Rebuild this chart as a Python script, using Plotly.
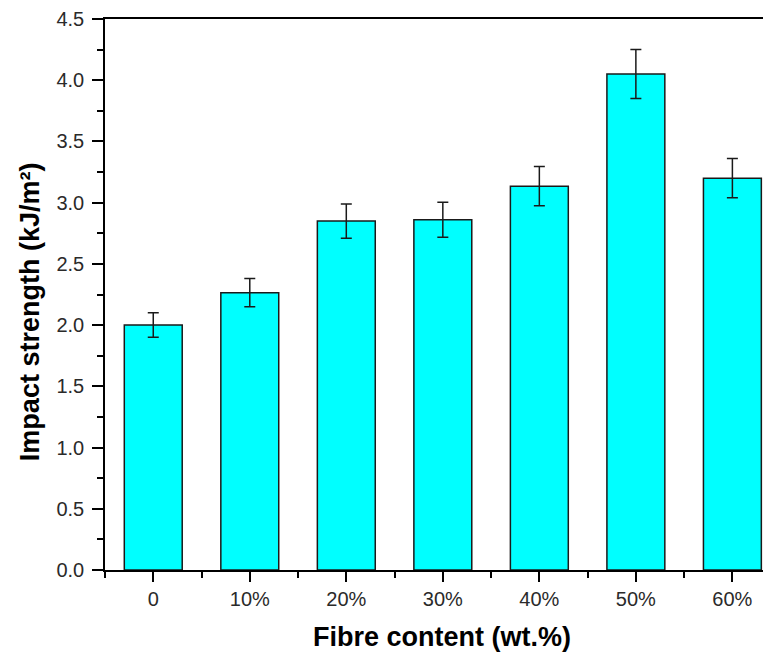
import plotly.graph_objects as go

categories = ["0", "10%", "20%", "30%", "40%", "50%", "60%"]
impact = [2.00, 2.265, 2.85, 2.86, 3.135, 4.05, 3.20]
err = [0.10, 0.115, 0.14, 0.143, 0.16, 0.20, 0.16]
y_ticks = [0, 0.5, 1.0, 1.5, 2.0, 2.5, 3.0, 3.5, 4.0, 4.5]

xpos = list(range(len(categories)))
FONT = "Liberation Sans, Arial, sans-serif"

fig = go.Figure()
fig.add_trace(go.Bar(
    x=xpos, y=impact, width=0.6,
    marker=dict(color="#00FFFF", line=dict(color="#1a1a1a", width=1.5)),
    error_y=dict(type="data", array=err, visible=True, color="#1a1a1a",
                 thickness=1.5, width=5.5),
))

# page body has an 8px margin; compensate so the plot sits where the reference has it
fig.update_layout(
    width=763, height=645,
    margin=dict(l=97, r=0, t=11, b=83),
    plot_bgcolor="white", paper_bgcolor="white",
    showlegend=False,
    font=dict(family=FONT, color="#222"),
)
fig.update_xaxes(
    range=[-0.5, 6.4],
    tickmode="array", tickvals=xpos, ticktext=categories,
    showline=True, linecolor="black", linewidth=1.5, mirror=True,
    ticks="outside", ticklen=10, tickwidth=1.5, tickcolor="black",
    minor=dict(tickmode="linear", tick0=-0.5, dtick=1, ticks="outside",
               ticklen=6, tickwidth=1.5, tickcolor="black"),
    showgrid=False, zeroline=False,
    tickfont=dict(size=20, family=FONT, color="#2a2a2a"),
)
fig.update_yaxes(
    range=[0, 4.5],
    tickmode="array", tickvals=y_ticks, tickformat=".1f",
    showline=True, linecolor="black", linewidth=1.5,
    ticks="outside", ticklen=11, tickwidth=1.5, tickcolor="black",
    ticklabelstandoff=4,
    minor=dict(tickmode="linear", tick0=0, dtick=0.25, ticks="outside",
               ticklen=6, tickwidth=1.5, tickcolor="black"),
    showgrid=False, zeroline=False,
    tickfont=dict(size=20, family=FONT, color="#2a2a2a"),
)
fig.add_annotation(
    text="<b>Fibre content (wt.%)</b>", xref="paper", yref="paper",
    x=0.506, y=-0.122, xanchor="center", yanchor="middle", showarrow=False,
    font=dict(size=27, family=FONT, color="black"),
)
fig.add_annotation(
    text="<b>Impact strength (kJ/m²)</b>", xref="paper", yref="paper",
    x=-0.1126, y=0.468, xanchor="center", yanchor="middle", showarrow=False,
    textangle=-90,
    font=dict(size=27, family=FONT, color="black"),
)

fig.write_html("out.html")
